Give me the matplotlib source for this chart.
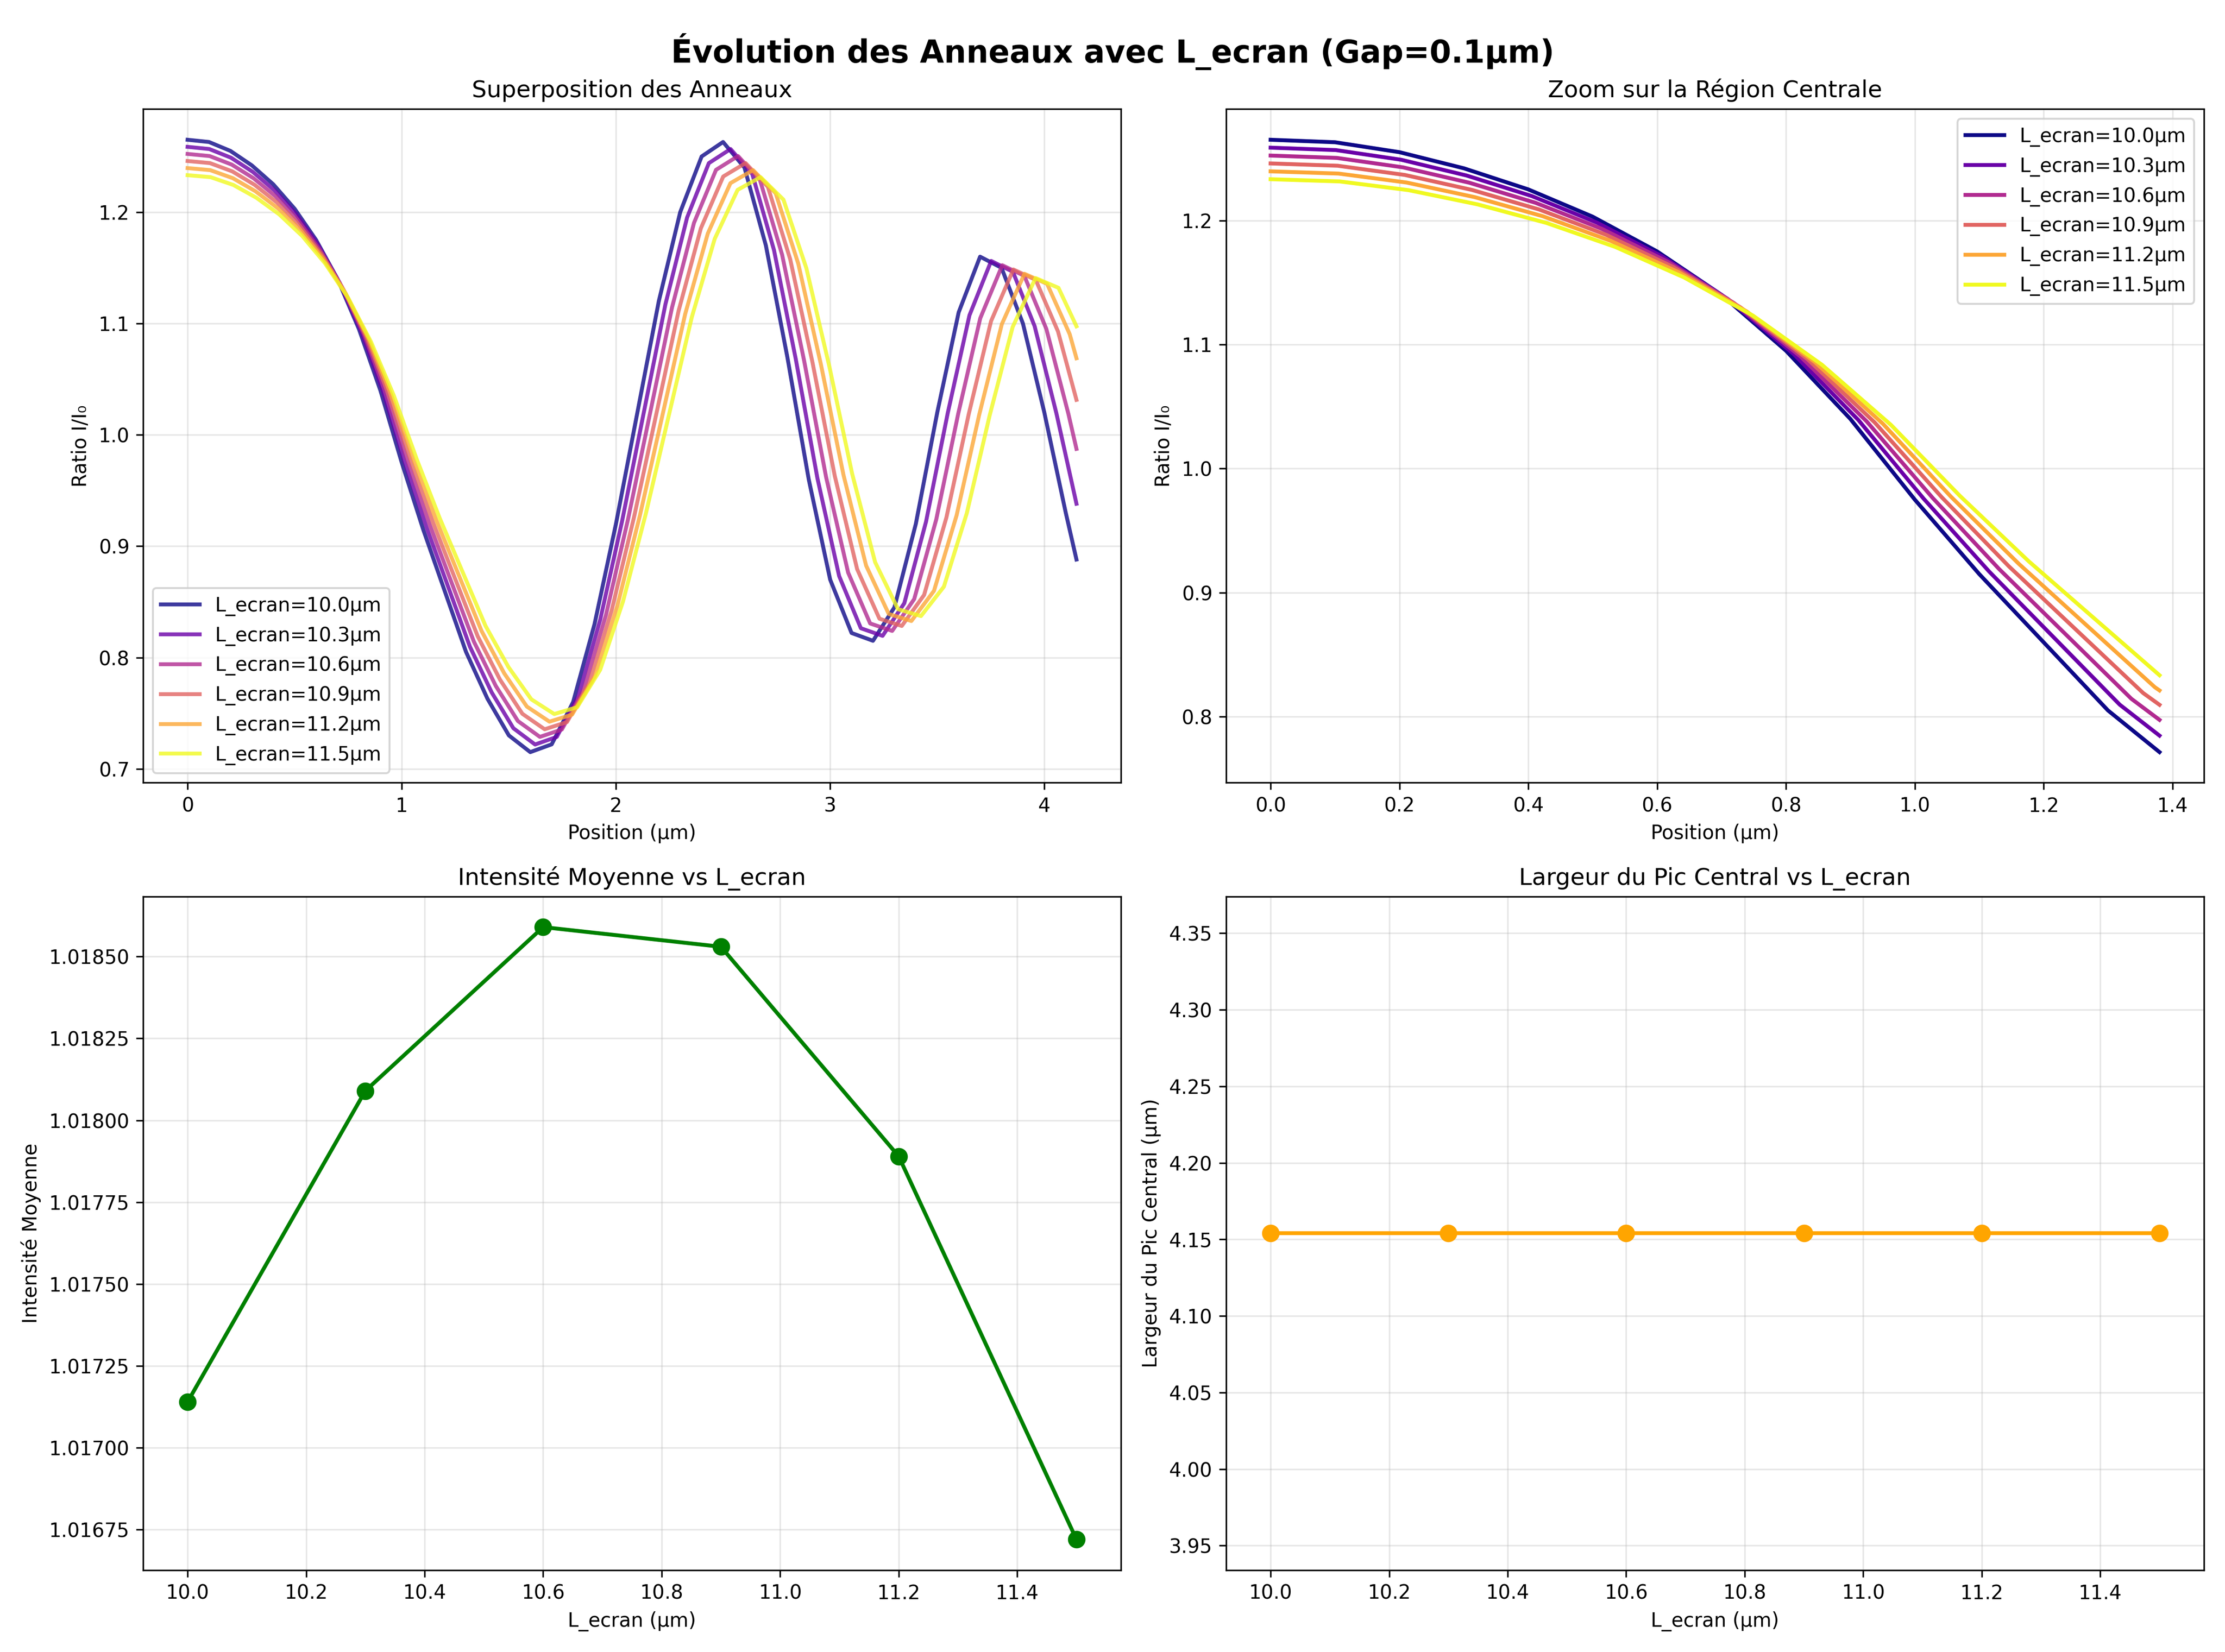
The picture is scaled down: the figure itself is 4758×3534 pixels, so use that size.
import numpy as np
import matplotlib
matplotlib.use("Agg")
import matplotlib.pyplot as plt

# screen distances (um) and the reading of each curve off the picture
l_ecran = [10.0, 10.3, 10.6, 10.9, 11.2, 11.5]
# stretch along x and amplitude compression read for each curve
stretch = [1.0, 1.014, 1.028, 1.042, 1.056, 1.07]
amplitude = [1.0, 0.976, 0.952, 0.928, 0.904, 0.88]

# reference profile (L_ecran = 10.0 um)
base_x = [0.0, 0.1, 0.2, 0.3, 0.4, 0.5, 0.6, 0.7, 0.8, 0.9, 1.0, 1.1, 1.2, 1.3,
          1.4, 1.5, 1.6, 1.7, 1.8, 1.9, 2.0, 2.1, 2.2, 2.3, 2.4, 2.5, 2.6, 2.7,
          2.8, 2.9, 3.0, 3.1, 3.2, 3.3, 3.4, 3.5, 3.6, 3.7, 3.8, 3.9, 4.0, 4.1, 4.15]
base_y = [1.265, 1.263, 1.255, 1.242, 1.225, 1.203, 1.175, 1.14, 1.095, 1.04,
          0.975, 0.915, 0.86, 0.805, 0.763, 0.73, 0.715, 0.722, 0.76, 0.83,
          0.92, 1.02, 1.12, 1.2, 1.25, 1.263, 1.24, 1.17, 1.07, 0.96, 0.87,
          0.822, 0.815, 0.845, 0.92, 1.02, 1.11, 1.16, 1.15, 1.1, 1.02, 0.93, 0.888]

mean_intensity = [1.01714, 1.01809, 1.01859, 1.01853, 1.01789, 1.01672]
peak_width = [4.154, 4.154, 4.154, 4.154, 4.154, 4.154]

x_end = 4.15
x_zoom = 1.38

colors = plt.cm.plasma(np.linspace(0, 1, len(l_ecran)))

fig, axes = plt.subplots(2, 2, figsize=(15.86, 11.78))
fig.suptitle("Évolution des Anneaux avec L_ecran (Gap=0.1μm)", fontsize=16, fontweight="bold")

bx = np.array(base_x)
by = np.array(base_y)
ax1, ax2, ax3, ax4 = axes.ravel()
for L, k, a, c in zip(l_ecran, stretch, amplitude, colors):
    x = bx * k
    y = 1 + (by - 1) * a
    keep = x <= x_end
    xs = np.append(x[keep], x_end)
    ys = np.append(y[keep], np.interp(x_end, x, y))
    ax1.plot(xs, ys, color=c, lw=2, alpha=0.8, label=f"L_ecran={L}μm")
    z = x <= x_zoom
    xz = np.append(x[z], x_zoom)
    yz = np.append(y[z], np.interp(x_zoom, x, y))
    ax2.plot(xz, yz, color=c, lw=2, label=f"L_ecran={L}μm")

ax1.set_title("Superposition des Anneaux", fontsize=12)
ax1.set_xlabel("Position (μm)")
ax1.set_ylabel("Ratio I/I₀")
ax1.legend(loc="lower left", fontsize=10)
ax1.grid(True, alpha=0.3)

ax2.set_title("Zoom sur la Région Centrale", fontsize=12)
ax2.set_xlabel("Position (μm)")
ax2.set_ylabel("Ratio I/I₀")
ax2.legend(loc="upper right", fontsize=10)
ax2.grid(True, alpha=0.3)

ax3.plot(l_ecran, mean_intensity, "o-", color="green", lw=2, markersize=8)
ax3.set_title("Intensité Moyenne vs L_ecran", fontsize=12)
ax3.set_xlabel("L_ecran (μm)")
ax3.set_ylabel("Intensité Moyenne")
ax3.grid(True, alpha=0.3)

ax4.plot(l_ecran, peak_width, "o-", color="orange", lw=2, markersize=8)
ax4.set_title("Largeur du Pic Central vs L_ecran", fontsize=12)
ax4.set_xlabel("L_ecran (μm)")
ax4.set_ylabel("Largeur du Pic Central (μm)")
ax4.set_ylim(3.934, 4.374)
ax4.grid(True, alpha=0.3)

plt.tight_layout()
plt.savefig("out.png", dpi=300)
